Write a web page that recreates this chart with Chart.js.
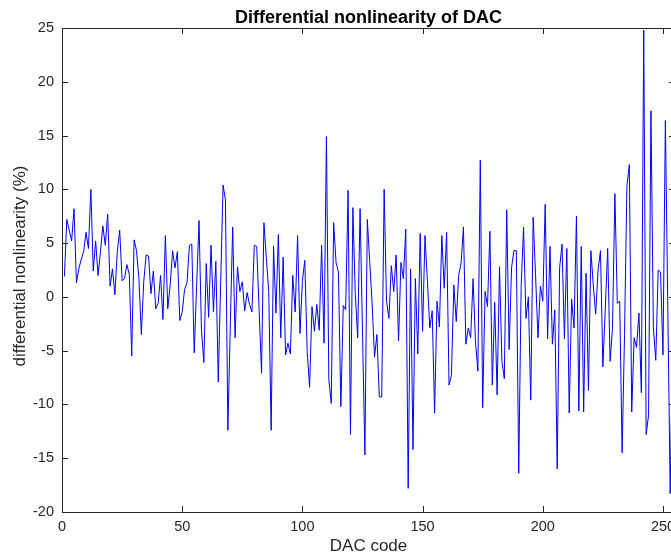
<!DOCTYPE html>
<html>
<head>
<meta charset="utf-8">
<title>Differential nonlinearity of DAC</title>
<script src="https://cdn.jsdelivr.net/npm/chart.js@4.4.1/dist/chart.umd.min.js"></script>
<style>
    html, body { margin: 0; padding: 0; background: #ffffff; overflow: hidden; }
    #wrap { width: 690px; height: 556px; }
</style>
</head>
<body>
<div id="wrap"><canvas id="dnlChart" width="690" height="556"></canvas></div>
<script>
// DNL per DAC code (%), codes 1..255
const dnl = [
    1.9, 7.2, 6.2, 5.2, 8.2, 1.3, 2.6, 3.5, 4.2, 6.0, 4.5, 10.0,
    2.4, 5.2, 2.0, 4.2, 6.6, 4.8, 7.7, 1.0, 2.6, 0.2, 4.2, 6.2, 1.5, 1.7, 3.0, 2.1, -5.5, 5.3, 4.3, 1.7, -3.5,
    1.4, 3.9, 3.8, 0.3, 2.4, -1.1, -0.6, 2.0, -2.1, 5.7, -1.1, 1.1, 4.3, 2.7, 4.2, -2.2, -1.4, 0.7, 1.3, 4.8,
    4.9, -5.2, 1.0, 7.1, -3.0, -6.1, 3.1, -1.9, 4.8, -1.4, 3.3, -7.9,
    1.3, 10.4, 9.0, -12.4, -2.8, 6.5, -3.8, 2.8, 0.5, 1.4, -1.3, 0.4, -0.7, -1.4, 4.8, 4.7, -1.2, -7.1, 6.9,
    3.6, 0.5, -12.4, 4.7, -1.5, 5.8, -3.8, 3.7, -5.4, -4.3, -5.3, 2.0, -1.4, 5.7,
    -3.4, 1.5, 3.4, -5.1, -8.4, -0.9, -3.2, -0.7, -3.1, 4.8, -4.3, 14.9, -7.7, -9.9, 6.9, 3.2, 2.3, -10.2,
    -0.8, -1.2, 9.9, -12.8, 8.3, 0.3, -3.8, 8.2, -3.2, -14.7, 7.2, 3.3, -0.6, -5.6,
    -3.5, -9.3, -9.3, 10.0, -0.4, -2.0, 2.9, 0.5, 3.9, -4.1, 3.2, 1.7, 6.3, -17.8, 2.6, -14.2, 1.7, -5.3,
    5.9, -3.2, 5.7, 1.5, -2.9, -1.3, -10.8, -0.4, -2.8, 5.7, 0.8, 6.0, -8.2, -7.3, 1.1,
    -2.3, 2.0, 3.1, 6.5, -4.4, -2.9, -3.8, 1.7, -4.2, -6.9, 12.7, -10.3, 0.5, -0.9, 6.1, -8.2, -0.5, -9.1,
    2.8, -6.0, -7.6, 8.1, -4.9, 2.7, 4.3, 4.3, -16.4, 1.0, 6.5, -2.0, 0.0, -9.6,
    7.4, 2.0, -3.8, 1.0, -0.4, 8.6, -3.9, 4.7, -4.4, -1.2, -16.0, 2.7, 4.9, -3.9, 4.5, -10.8, -0.2, -2.9,
    7.5, -10.6, 4.7, -10.7, 2.2, -8.7, 4.3, 1.1, -1.6, 2.5, 4.3, -6.5, -1.1, 4.5, -6.0,
    -2.9, 9.6, -0.6, -0.4, -14.5, -3.5, 10.3, 12.3, -10.7, -3.8, -4.7, -1.5, -8.9, 24.8, -12.8, -11.0,
    17.3, -2.8, -5.9, 2.5, 2.3, -5.4, 16.4, -0.9, -18.3, -4.0, 2.0
];
const dacCodes = dnl.map((_, i) => i + 1);

const xRange = [0, 255];
const yRange = [-20, 25];
const xStep = 50;
const yStep = 5;

const FONT = '"Liberation Sans", Arial, Helvetica, sans-serif';
const AXIS_COLOR = '#262626';

// MATLAB style: box round the axes, ticks pointing inwards on all four sides, plus titles
const matlabFrame = {
    id: 'matlabFrame',
    afterDraw(chart) {
        const { ctx, chartArea: a, scales: { x, y } } = chart;
        const tick = 6;
        ctx.save();
        ctx.strokeStyle = AXIS_COLOR;
        ctx.lineWidth = 1;
        ctx.strokeRect(a.left + 0.5, a.top + 0.5, a.right - a.left, a.bottom - a.top);

        ctx.beginPath();
        x.ticks.forEach(t => {
            const px = Math.round(x.getPixelForValue(t.value)) + 0.5;
            ctx.moveTo(px, a.bottom); ctx.lineTo(px, a.bottom - tick);
            ctx.moveTo(px, a.top); ctx.lineTo(px, a.top + tick);
        });
        y.ticks.forEach(t => {
            const py = Math.round(y.getPixelForValue(t.value)) + 0.5;
            ctx.moveTo(a.left, py); ctx.lineTo(a.left + tick, py);
            ctx.moveTo(a.right, py); ctx.lineTo(a.right - tick, py);
        });
        ctx.stroke();

        const midX = 368.5;
        ctx.fillStyle = '#000000';
        ctx.textAlign = 'center';
        ctx.textBaseline = 'alphabetic';
        ctx.font = 'bold 18px ' + FONT;
        ctx.fillText('Differential nonlinearity of DAC', midX, 23);

        ctx.fillStyle = AXIS_COLOR;
        ctx.textBaseline = 'middle';
        ctx.font = '17px ' + FONT;
        ctx.fillText('DAC code', midX, 546);

        ctx.translate(20, 266);
        ctx.rotate(-Math.PI / 2);
        ctx.fillText('differential nonlinearity (%)', 0, 0);
        ctx.restore();
    }
};

new Chart(document.getElementById('dnlChart').getContext('2d'), {
    type: 'line',
    data: {
        datasets: [{
            label: 'DNL',
            data: dacCodes.map((c, i) => ({ x: c, y: dnl[i] })),
            borderColor: '#0000ff',
            borderWidth: 1,
            pointRadius: 0,
            tension: 0,
            fill: false
        }]
    },
    options: {
        responsive: false,
        animation: false,
        layout: { padding: { left: 0, top: 28, right: 15, bottom: 0 } },
        plugins: {
            legend: { display: false },
            title: { display: false },
            tooltip: { enabled: false }
        },
        scales: {
            x: {
                type: 'linear',
                min: xRange[0],
                max: xRange[1],
                grid: { display: false, drawTicks: false },
                border: { display: false },
                ticks: {
                    stepSize: xStep,
                    includeBounds: false,
                    maxRotation: 0,
                    padding: 6,
                    color: AXIS_COLOR,
                    font: { family: FONT, size: 14.5 }
                },
                afterFit: scale => { scale.height = 44; }
            },
            y: {
                min: yRange[0],
                max: yRange[1],
                grid: { display: false, drawTicks: false },
                border: { display: false },
                ticks: {
                    stepSize: yStep,
                    padding: 8,
                    color: AXIS_COLOR,
                    font: { family: FONT, size: 14.5 }
                },
                afterFit: scale => { scale.width = 62; }
            }
        }
    },
    plugins: [matlabFrame]
});
</script>
</body>
</html>
